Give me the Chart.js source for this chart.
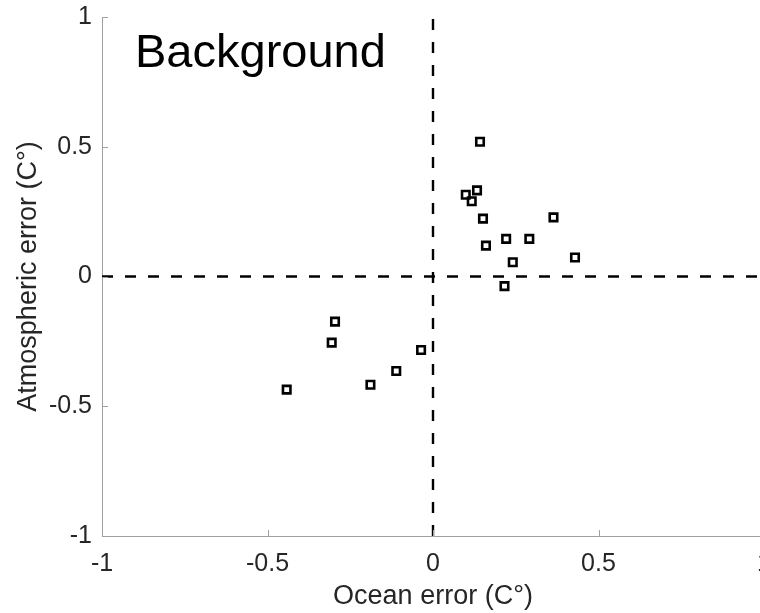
<!DOCTYPE html>
<html>
<head>
<meta charset="utf-8">
<script src="https://cdn.jsdelivr.net/npm/chart.js@4"></script>
<style>
  html, body { margin: 0; padding: 0; background: #fff; overflow: hidden; }
  #wrap { position: relative; width: 780px; height: 613px; }
  #label { position: absolute; left: 135px; top: 27px; font: 47px/1 "Liberation Sans", Arial, sans-serif; color: #000; }
</style>
</head>
<body>
<div id="wrap">
  <canvas id="c" width="780" height="613"></canvas>
  <div id="label">Background</div>
</div>
<script>
// ocean error (x) vs atmospheric error (y)
const oceanErr = [0.142, 0.133, 0.099, 0.117, 0.151, 0.364, 0.160, 0.221, 0.291, 0.241, 0.429, 0.216,
                  -0.296, -0.306, -0.036, -0.111, -0.189, -0.442];
const atmosErr = [0.519, 0.332, 0.315, 0.290, 0.223, 0.228, 0.119, 0.145, 0.145, 0.055, 0.073, -0.037,
                  -0.174, -0.255, -0.283, -0.364, -0.417, -0.436];
const tickVals = [-1, -0.5, 0, 0.5, 1];

const axisGrey = '#a0a0a0';
const textGrey = '#262626';
const fam = '"Liberation Sans", Arial, sans-serif';

// MATLAB style ticks pointing into the axes
const innerTicks = {
  id: 'innerTicks',
  afterDatasetsDraw(chart) {
    const { ctx, scales: { x, y }, chartArea: a } = chart;
    ctx.save();
    ctx.strokeStyle = axisGrey;
    ctx.lineWidth = 1;
    ctx.beginPath();
    tickVals.forEach(v => {
      const px = Math.round(x.getPixelForValue(v)) + 0.5;
      ctx.moveTo(px, a.bottom); ctx.lineTo(px, a.bottom - 6);
      const py = Math.round(y.getPixelForValue(v)) + 0.5;
      ctx.moveTo(a.left, py); ctx.lineTo(a.left + 6, py);
    });
    ctx.stroke();
    ctx.restore();
  }
};

new Chart(document.getElementById('c'), {
  type: 'scatter',
  data: {
    datasets: [
      {
        data: oceanErr.map((v, i) => ({ x: v, y: atmosErr[i] })),
        pointStyle: 'rect',
        radius: 5.3,
        borderWidth: 2.6,
        borderColor: '#000',
        backgroundColor: 'rgba(0,0,0,0)'
      },
      {
        type: 'line',
        data: [{ x: -1, y: 0 }, { x: 1, y: 0 }],
        borderColor: '#000',
        borderWidth: 2.4,
        borderDash: [11, 12],
        pointRadius: 0
      },
      {
        type: 'line',
        data: [{ x: 0, y: -1 }, { x: 0, y: 1 }],
        borderColor: '#000',
        borderWidth: 2.4,
        borderDash: [11, 12],
        pointRadius: 0
      }
    ]
  },
  options: {
    responsive: false,
    animation: false,
    layout: { padding: { top: 17, right: 16, left: 0, bottom: 0 } },
    plugins: { legend: { display: false }, tooltip: { enabled: false } },
    scales: {
      x: {
        type: 'linear', min: -1, max: 1,
        afterBuildTicks: s => { s.ticks = tickVals.map(v => ({ value: v })); },
        afterFit: s => { s.height = 77; s.paddingLeft = 0; s.paddingRight = 0; },
        grid: { display: false, drawTicks: false },
        border: { color: axisGrey, width: 1 },
        ticks: { color: textGrey, font: { family: fam, size: 25 }, padding: 13, maxRotation: 0,
                 callback: v => String(v) },
        title: { display: true, text: 'Ocean error (C°)', color: textGrey,
                 font: { family: fam, size: 27 }, padding: { top: 0, bottom: 0 } }
      },
      y: {
        type: 'linear', min: -1, max: 1,
        afterBuildTicks: s => { s.ticks = tickVals.map(v => ({ value: v })); },
        afterFit: s => { s.width = 102; s.paddingTop = 0; s.paddingBottom = 0; },
        grid: { display: false, drawTicks: false },
        border: { color: axisGrey, width: 1 },
        ticks: { color: textGrey, font: { family: fam, size: 25 }, padding: 10,
                 callback: v => String(v) },
        title: { display: true, text: 'Atmospheric error (C°)', color: textGrey,
                 font: { family: fam, size: 27 }, padding: { top: 12, bottom: 0 } }
      }
    }
  },
  plugins: [innerTicks]
});
</script>
</body>
</html>
